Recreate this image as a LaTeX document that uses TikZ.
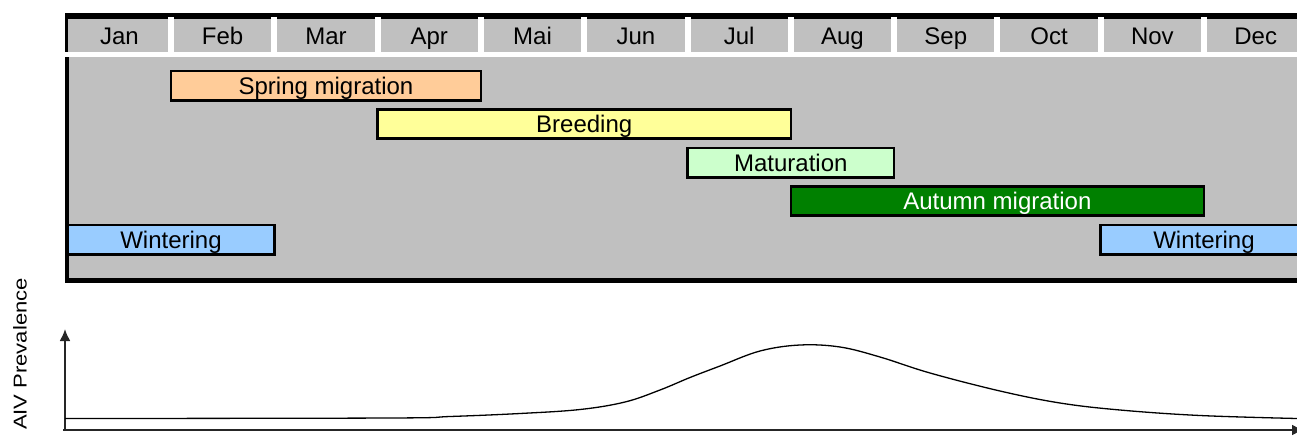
\documentclass[tikz,border=0pt]{standalone}
\usepackage{fontspec}
\setmainfont{Liberation Sans}
\usetikzlibrary{arrows.meta}

\definecolor{panelgray}{HTML}{C0C0C0}
\definecolor{springc}{HTML}{FFCC99}
\definecolor{breedc}{HTML}{FFFF99}
\definecolor{maturec}{HTML}{CCFFCC}
\definecolor{autumnc}{HTML}{008000}
\definecolor{winterc}{HTML}{99CCFF}

\tikzset{
  label font/.style={font=\fontsize{24}{28}\selectfont, text height=17.2pt, text depth=0pt, inner sep=0pt},
  monthlabel/.style={label font},
  phase/.style={label font, draw=black, line width=2.6pt, minimum height=29.4pt, inner sep=0pt, outer sep=0pt},
  axisline/.style={line width=2pt, black!85, -{Latex[length=12pt,width=11pt]}},
}

\begin{document}
\begin{tikzpicture}[x=1pt,y=-1pt]
\useasboundingbox (0,0) rectangle (1297,439);
\clip (0,0) rectangle (1297,439);

% month header: black frame on top and left, grey cells split by white rules
\fill[black] (65,13.3) rectangle (1297,19.3);
\fill[black] (65,13.3) rectangle (68.3,51.7);
\fill[panelgray] (68.3,19.3) rectangle (1297,51.7);
\foreach \k in {1,...,11}
  \fill[white] ({67.7+103.3*\k-3},16.7) rectangle ({67.7+103.3*\k+3},51.7);
\foreach \m [count=\i] in {Jan,Feb,Mar,Apr,Mai,Jun,Jul,Aug,Sep,Oct,Nov,Dec}
  \node[monthlabel] (m\i) at ({67.7+103.3*(\i-0.5)},35.5) {\m};

% phase panel
\fill[panelgray] (65,57.3) rectangle (1297,283.3);
\fill[black] (65,57.3) rectangle (68.5,283.3);
\fill[black] (65,278.3) rectangle (1297,283.3);

% annual phases
\node[phase, fill=springc, minimum width=309.9pt] (spring) at (326,85.5) {Spring migration};
\node[phase, fill=breedc, minimum width=413.2pt] (breeding) at (584.2,124) {Breeding};
\node[phase, fill=maturec, minimum width=206.6pt] (maturation) at (790.8,162.5) {Maturation};
\node[phase, fill=autumnc, text=white, minimum width=413.2pt] (autumn) at (997.4,201) {Autumn migration};
\node[phase, fill=winterc, minimum width=206.6pt] (winterA) at (171,239.5) {Wintering};
\node[phase, fill=winterc, minimum width=206.6pt] (winterB) at (1204,239.5) {Wintering};

% prevalence axes
\coordinate (origin) at (65,431);
\coordinate (ytop) at (65,329);
\coordinate (xleft) at (63,430);
\coordinate (xright) at (1304,430);
\draw[axisline] (origin) -- (ytop);
\draw[axisline] (xleft) -- (xright);

\node[font=\fontsize{18.6}{22}\selectfont, text height=13.3pt, text depth=0pt, inner sep=0pt, rotate=90] (ylab) at (20,354) {\scalebox{1.185}[1]{AIV Prevalence}};

% prevalence curve
\draw[line width=1.3pt] plot[smooth, tension=0.6] coordinates {
  (65,418.5) (390,418) (450,416.5) (520,413.5) (580,409.5) (625,402)
  (660,390) (690,377.5) (720,366) (760,351) (800,345) (840,347)
  (880,357) (930,373) (1000,391) (1060,403) (1120,410) (1200,415.5) (1297,418.5)};
\end{tikzpicture}
\end{document}
